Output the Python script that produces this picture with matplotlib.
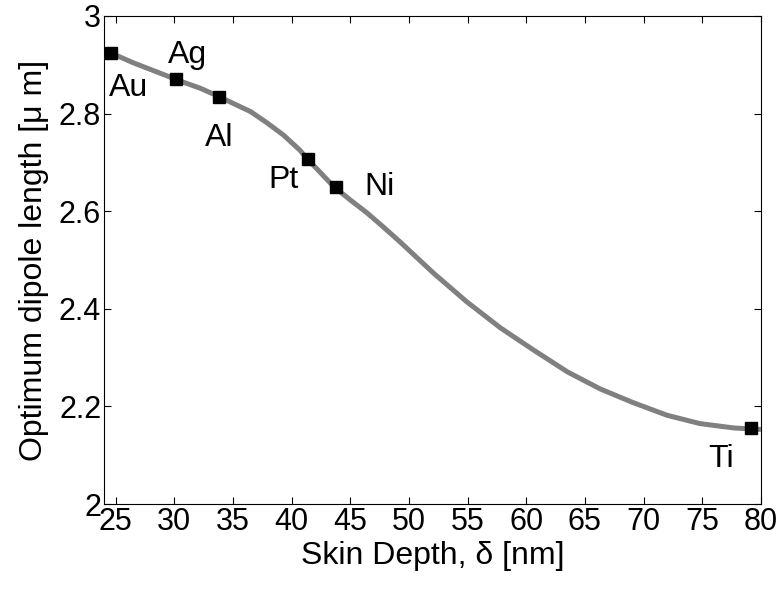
import numpy as np
import matplotlib.pyplot as plt

plt.rcParams['font.family'] = ['Liberation Sans', 'DejaVu Sans']

# curve (skin depth [nm] -> optimum length [um])
curve_x = [24, 24.6, 26.5, 29.3, 30.1, 32.2, 33.8, 35.0, 36.5, 37.9, 39.3, 40.7, 41.4, 42.1,
           43.6, 45.0, 46.4, 47.8, 49.2, 52.1, 54.9, 57.8, 60.6, 63.5, 66.3, 69.1, 72.0,
           74.8, 77.7, 80]
curve_y = [2.928, 2.924, 2.904, 2.878, 2.870, 2.852, 2.835, 2.821, 2.804, 2.781, 2.756, 2.725,
           2.705, 2.688, 2.650, 2.623, 2.597, 2.568, 2.538, 2.473, 2.415, 2.361, 2.316, 2.271,
           2.236, 2.208, 2.182, 2.165, 2.156, 2.153]

# metals
metals = ['Au', 'Ag', 'Al', 'Pt', 'Ni', 'Ti']
metal_x = [24.57, 30.14, 33.78, 41.39, 43.78, 79.13]
metal_y = [2.924, 2.870, 2.835, 2.706, 2.649, 2.155]
label_x = [26.1, 31.1, 33.8, 39.3, 47.5, 76.6]
label_y = [2.852, 2.920, 2.751, 2.664, 2.650, 2.093]

x_ticks = [25, 30, 35, 40, 45, 50, 55, 60, 65, 70, 75, 80]
y_ticks = [2, 2.2, 2.4, 2.6, 2.8, 3]
y_tick_labels = ['2', '2.2', '2.4', '2.6', '2.8', '3']

fig = plt.figure(figsize=(7.82, 5.91), dpi=100)
ax = fig.add_axes([0.133, 0.147, 0.840, 0.826])

ax.plot(curve_x, curve_y, color='#808080', lw=3.6, solid_capstyle='butt',
        solid_joinstyle='round')
ax.plot(metal_x, metal_y, 's', color='black', ms=8)

for name, lx, ly in zip(metals, label_x, label_y):
    ax.text(lx, ly, name, fontsize=23, ha='center', va='center')

ax.set_xlim(24, 80)
ax.set_ylim(2, 3)
ax.set_xticks(x_ticks)
ax.set_yticks(y_ticks)
ax.set_yticklabels(y_tick_labels)
ax.tick_params(direction='in', top=True, right=True, length=5, width=0.8,
               labelsize=22, pad=2)
for s in ax.spines.values():
    s.set_linewidth(0.8)

ax.set_xlabel('Skin Depth, δ [nm]', fontsize=23, labelpad=3)
ax.set_ylabel('Optimum dipole length [μ m]', fontsize=23, labelpad=7)

fig.savefig('out.png', dpi=100)
